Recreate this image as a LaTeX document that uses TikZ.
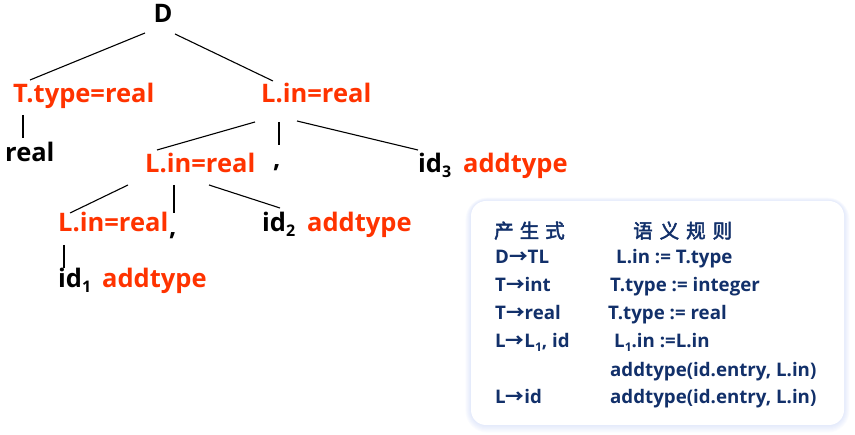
\documentclass[tikz,border=0pt]{standalone}
\usepackage{fontspec}
\usetikzlibrary{calc}
\setmainfont{Open Sans}
\newfontfamily\cjk{Noto Sans CJK SC}
\newfontfamily\cjkb{Noto Sans CJK SC}[FakeBold=2.5]
\definecolor{redc}{HTML}{FF3300}
\definecolor{navy}{HTML}{12306A}
\definecolor{glow}{HTML}{9DB3F0}
\newcommand{\sbs}[1]{\raisebox{-0.35ex}{\fontsize{16}{16}\selectfont #1}}
\newcommand{\sbsm}[1]{\raisebox{-0.35ex}{\fontsize{12}{12}\selectfont #1}}
\newcommand{\arr}{{\cjk →}}
\begin{document}
\begin{tikzpicture}[x=1pt,y=-1pt,
  big/.style={font=\fontsize{25.5}{28}\selectfont\bfseries, inner sep=0pt, anchor=base west},
  redt/.style={big, text=redc},
  blk/.style={big, text=black},
  edge/.style={line width=1.1pt, black},
  small/.style={font=\fontsize{18.7}{20}\selectfont\bfseries, text=navy, inner sep=0pt, anchor=base west},
  head/.style={font=\cjkb\fontsize{19.5}{20}\selectfont, text=navy, inner sep=0pt, anchor=base west}]
\useasboundingbox (0,0) rectangle (855,435);
% tree nodes
\node[blk, anchor=base] (D) at (163,23) {D};
\node[redt] (T) at (13,103) {T.type=real};
\node[redt] (L0) at (261,103) {L.in=real};
\node[blk] (real) at (5,162) {real};
\node[redt] (L1) at (145,173) {L.in=real};
\node[blk] (c1) at (273,168) {,};
\node[blk] (id3) at (418,173) {id\sbs{3}};
\node[redt] (a3) at (463,173) {addtype};
\node[redt] (L2) at (58,232) {L.in=real};
\node[blk] (c2) at (169,236) {,};
\node[blk] (id2) at (262,232) {id\sbs{2}};
\node[redt] (a2) at (307,232) {addtype};
\node[blk] (id1) at (58,288) {id\sbs{1}};
\node[redt] (a1) at (102,288) {addtype};
% connector ends
\coordinate (dA) at (145,33); \coordinate (tA) at (30,80);
\coordinate (dB) at (175,34); \coordinate (lA) at (273,81);
\coordinate (tB) at (23,115); \coordinate (rA) at (23,138);
\coordinate (l0a) at (255,122); \coordinate (l1t) at (157,150);
\coordinate (l0b) at (279,122); \coordinate (c1t) at (279,145);
\coordinate (l0c) at (297,121); \coordinate (id3t) at (418,150);
\coordinate (l1a) at (128,185); \coordinate (l2t) at (70,213);
\coordinate (l1b) at (174,185); \coordinate (c2t) at (174,213);
\coordinate (l1c) at (209,185); \coordinate (id2t) at (280,208);
\coordinate (l2a) at (64,245); \coordinate (id1t) at (64,268);
\draw[edge] (dA) -- (tA);
\draw[edge] (dB) -- (lA);
\draw[edge] (tB) -- (rA);
\draw[edge] (l0a) -- (l1t);
\draw[edge] (l0b) -- (c1t);
\draw[edge] (l0c) -- (id3t);
\draw[edge] (l1a) -- (l2t);
\draw[edge] (l1b) -- (c2t);
\draw[edge] (l1c) -- (id2t);
\draw[edge] (l2a) -- (id1t);
% box with glow
\foreach \i in {1,...,7}{
  \fill[glow, opacity=0.045, rounded corners={15pt+\i pt}] ($(471-\i*0.8,201-\i*0.5)$) rectangle ($(844+\i*0.8,425+\i*1.1)$);
}
\fill[white, rounded corners=15pt] (471,201) rectangle (844,425);
% box text
\node[head] (h1) at (494,238) {产\hspace{6pt}生\hspace{6pt}式};
\node[head] (h2) at (633,238) {语\hspace{7pt}义\hspace{7pt}规\hspace{7pt}则};
\node[small] (p1) at (495,264) {D\arr TL};
\node[small] (s1) at (616,264) {L.in := T.type};
\node[small] (p2) at (495,292) {T\arr int};
\node[small] (s2) at (610,292) {T.type := integer};
\node[small] (p3) at (495,320) {T\arr real};
\node[small] (s3) at (608,320) {T.type := real};
\node[small] (p4) at (495,348) {L\arr L\sbsm{1}, id};
\node[small] (s4) at (614,348) {L\sbsm{1}.in :=L.in};
\node[small] (s5) at (610,377) {addtype(id.entry, L.in)};
\node[small] (p6) at (495,404) {L\arr id};
\node[small] (s6) at (610,404) {addtype(id.entry, L.in)};
\end{tikzpicture}
\end{document}
